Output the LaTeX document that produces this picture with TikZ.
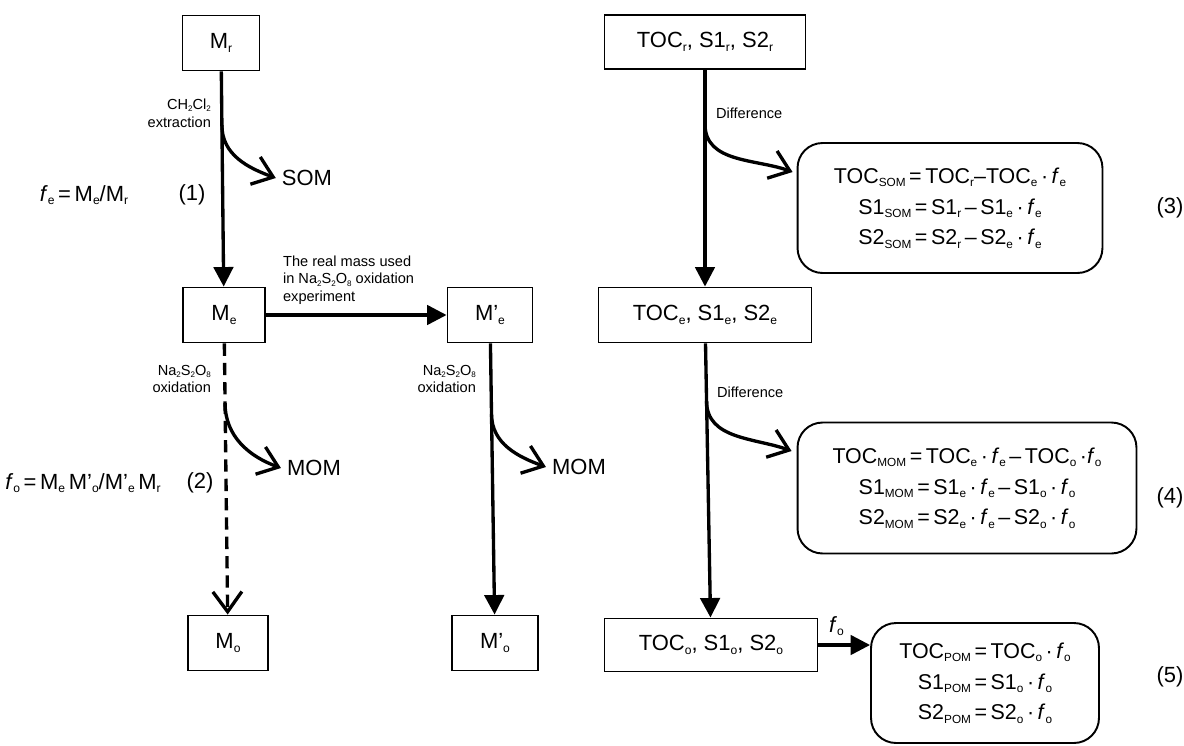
\documentclass[tikz,border=0pt]{standalone}
\usepackage{fontspec}
\setmainfont{Liberation Sans}
\usetikzlibrary{arrows.meta}

\newcommand{\subx}[1]{\raisebox{-0.3ex}{\scalebox{0.55}{#1}}}

\begin{document}
\begin{tikzpicture}[
  x=0.02cm, y=-0.02cm,
  font=\fontsize{12.5}{14}\selectfont,
  box/.style={draw, line width=1.1pt, minimum width=#1, minimum height=1.1cm, inner sep=1pt},
  box/.default=1.64cm,
  eqbox/.style={draw, line width=1.1pt, rounded corners=0.5cm, align=center, font=\fontsize{12.2}{17.5}\selectfont},
  lbl/.style={font=\fontsize{8.3}{10}\selectfont, align=#1, inner sep=1pt},
  lbl/.default=left,
  main/.style={line width=1.9pt, -{Triangle[length=3.9mm,width=3.9mm]}},
  branch/.style={line width=1.9pt, -{Straight Barb[length=3.8mm,width=5.8mm]}},
  gap/.style={line width=1.9pt, dash pattern=on 7pt off 4pt, -{Straight Barb[length=4mm,width=5.8mm]}}
]
\useasboundingbox (0,0) rectangle (1184,745);

% === Mass boxes (left) ===
\node[box=1.54cm] (Mr)  at (221,43)  {M\subx{r}};
\node[box]        (Me)  at (224,315) {M\subx{e}};
\node[box=1.7cm]  (Mpe) at (490,315) {M'\subx{e}};
\node[box=1.6cm]  (Mo)  at (228,643) {M\subx{o}};
\node[box=1.72cm] (Mpo) at (495,643) {M'\subx{o}};

% === TOC boxes (right) ===
\node[box=4.02cm, minimum height=1.08cm] (tocR) at (705,42)  {TOC\subx{r}, S1\subx{r}, S2\subx{r}};
\node[box=4.26cm]                        (tocE) at (705,315) {TOC\subx{e}, S1\subx{e}, S2\subx{e}};
\node[box=4.26cm, minimum height=1.06cm] (tocO) at (711,645) {TOC\subx{o}, S1\subx{o}, S2\subx{o}};

% === Equation boxes ===
\node[eqbox, minimum width=6.1cm, minimum height=2.6cm] (somEq) at (950,208) {
  TOC\subx{SOM}\,=\,TOC\subx{r}--TOC\subx{e}\,·\,\textit{f}\subx{e}\\
  S1\subx{SOM}\,=\,S1\subx{r}\,--\,S1\subx{e}\,·\,\textit{f}\subx{e}\\
  S2\subx{SOM}\,=\,S2\subx{r}\,--\,S2\subx{e}\,·\,\textit{f}\subx{e}};
\node[eqbox, minimum width=6.78cm, minimum height=2.62cm] (momEq) at (967,488) {
  TOC\subx{MOM}\,=\,TOC\subx{e}\,·\,\textit{f}\subx{e}\,--\,TOC\subx{o}\,·\textit{f}\subx{o}\\
  S1\subx{MOM}\,=\,S1\subx{e}\,·\,\textit{f}\subx{e}\,--\,S1\subx{o}\,·\,\textit{f}\subx{o}\\
  S2\subx{MOM}\,=\,S2\subx{e}\,·\,\textit{f}\subx{e}\,--\,S2\subx{o}\,·\,\textit{f}\subx{o}};
\node[eqbox, minimum width=4.56cm, minimum height=2.4cm] (pomEq) at (985,683) {
  TOC\subx{POM}\,=\,TOC\subx{o}\,·\,\textit{f}\subx{o}\\
  S1\subx{POM}\,=\,S1\subx{o}\,·\,\textit{f}\subx{o}\\
  S2\subx{POM}\,=\,S2\subx{o}\,·\,\textit{f}\subx{o}};

\node (n3) at (1170,208) {(3)};
\node (n4) at (1170,498) {(4)};
\node (n5) at (1170,677) {(5)};

% === Products ===
\node (som)  at (307,178) {SOM};
\node (momA) at (314,468) {MOM};
\node (momB) at (579,467) {MOM};

% === Factors ===
\node (fe) at (84,195)  {\textit{f}\subx{e}\,=\,M\subx{e}/M\subx{r}};
\node (n1) at (192,195) {(1)};
\node (fo) at (83,483)  {\textit{f}\subx{o}\,=\,M\subx{e}\,M'\subx{o}/M'\subx{e}\,M\subx{r}};
\node (n2) at (200,483) {(2)};

% === Step labels ===
\node[lbl=right, anchor=east] (extr) at (213,113) {CH\subx{2}Cl\subx{2}\\extraction};
\node[lbl=right, anchor=east] (oxA)  at (213,379) {Na\subx{2}S\subx{2}O\subx{8}\\oxidation};
\node[lbl=right, anchor=east] (oxB)  at (478,379) {Na\subx{2}S\subx{2}O\subx{8}\\oxidation};
\node[lbl, anchor=west] (real) at (281,280) {The real mass used\\in Na\subx{2}S\subx{2}O\subx{8} oxidation\\experiment};
\node[lbl, anchor=west] (dif1) at (714,113) {Difference};
\node[lbl, anchor=west] (dif2) at (715,392) {Difference};

% === Branch points ===
\path (Mr) -- (Me) coordinate[pos=0.25] (bSom);
\path (Me) -- (Mo) coordinate[pos=0.22] (bMomA);
\path (Mpe) -- (Mpo) coordinate[pos=0.26] (bMomB);
\path (tocR) -- (tocE) coordinate[pos=0.25] (bDif1);
\path (tocE) -- (tocO) coordinate[pos=0.21] (bDif2);

% === Arrows ===
\draw[main] (Mr) -- (Me);
\draw[branch] (bSom) to[out=-90, in=160] (som.west);
\draw[gap] (Me) -- (Mo);
\draw[branch] (bMomA) to[out=-90, in=160] (momA.west);
\draw[main] (Me) -- (Mpe);
\draw[main] (Mpe) -- (Mpo);
\draw[branch] (bMomB) to[out=-90, in=160] (momB.west);

\draw[main] (tocR) -- (tocE);
\draw[branch] (bDif1) to[out=-90, in=160] ([xshift=-0.08cm, yshift=0.72cm]somEq.west);
\draw[main] (tocE) -- (tocO);
\draw[branch] (bDif2) to[out=-90, in=160] ([xshift=-0.1cm, yshift=0.74cm]momEq.west);
\draw[main] (tocO.east) -- (tocO.east -| pomEq.west) node[pos=0.35, above=1pt] {\textit{f}\subx{o}};

\end{tikzpicture}
\end{document}
